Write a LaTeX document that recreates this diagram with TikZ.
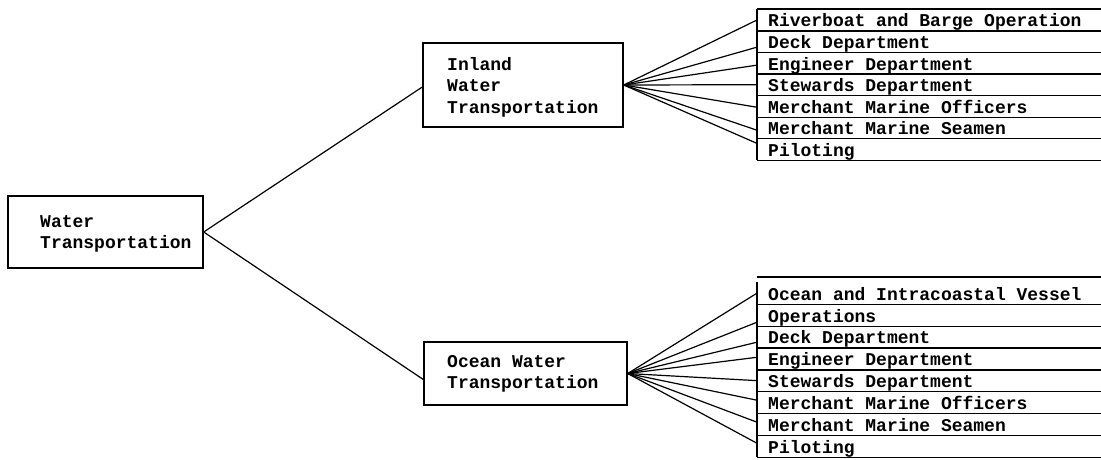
\documentclass[tikz,border=0pt]{standalone}
\usepackage{fontspec}
\setmonofont{Liberation Mono}[WordSpace={1,0,0}]
\newcommand\typewriterfont{\ttfamily\bfseries\fontsize{18}{21.5}\selectfont}
\begin{document}
\begin{tikzpicture}[x=1pt,y=-1pt,
  txt/.style={font=\typewriterfont},
  box/.style={draw,line width=1.4pt,inner sep=0pt},
  lbl/.style={txt,anchor=west,align=left,inner sep=0pt},
  listrow/.style={txt,anchor=north west,inner xsep=11pt,inner ysep=0pt,
    text width=322pt,align=flush left,minimum height=#1,text height=14pt,text depth=0pt},
  rule/.style={line width=1.3pt},
  fan/.style={line width=1.2pt}]
\useasboundingbox (0,0) rectangle (1101,459);

% top level and the two branches
\node[box,minimum width=195pt,minimum height=72pt] (root) at (105.5,232) {};
\node[lbl] (rootT) at (40,234) {Water\\Transportation};
\node[box,minimum width=200pt,minimum height=84pt] (inl) at (523,85) {};
\node[lbl] (inlT) at (447,87) {Inland\\Water\\Transportation};
\node[box,minimum width=203pt,minimum height=63pt] (oc) at (525.5,373.5) {};
\node[lbl] (ocT) at (447,374) {Ocean Water\\Transportation};

\draw[fan] (root.east) -- ([yshift=-2pt]inl.west);
\draw[fan] (root.east) -- ([yshift=-6pt]oc.west);

% inland occupations
\foreach \t [count=\i] in {Riverboat and Barge Operation,Deck Department,
  Engineer Department,Stewards Department,Merchant Marine Officers,
  Merchant Marine Seamen,Piloting}
  \node[listrow=21.57pt] (a\i) at (757,{9+21.57*(\i-1)}) {\t};
\draw[rule] (a1.north west) -- (a1.north east);
\foreach \i in {1,...,7} \draw[rule] (a\i.south west) -- (a\i.south east);
\draw[rule] (a1.north west) -- (a7.south west);
\foreach \i/\s in {1/0,2/-5.6,3/-2,4/0,5/-1,6/-2.4,7/6}
  \draw[fan] (inl.east) -- ([yshift=\s pt]a\i.west);

% ocean occupations
\foreach \t [count=\i] in {Ocean and Intracoastal Vessel,Operations,
  Deck Department,Engineer Department,Stewards Department,
  Merchant Marine Officers,Merchant Marine Seamen,Piloting}
  \node[listrow=21.875pt] (o\i) at (757,{282+21.875*(\i-1)}) {\t};
\draw[rule] ([yshift=5pt]o1.north west) -- ([yshift=5pt]o1.north east);
\foreach \i in {1,...,8} \draw[rule] (o\i.south west) -- (o\i.south east);
\draw[rule] (o1.north west) -- (o8.south west);
\foreach \i/\s in {1/0,2/-7.2,3/-5.3,4/1.5,5/0,6/2.3,7/2.2,8/3}
  \draw[fan] (oc.east) -- ([yshift=\s pt]o\i.west);
\end{tikzpicture}
\end{document}
